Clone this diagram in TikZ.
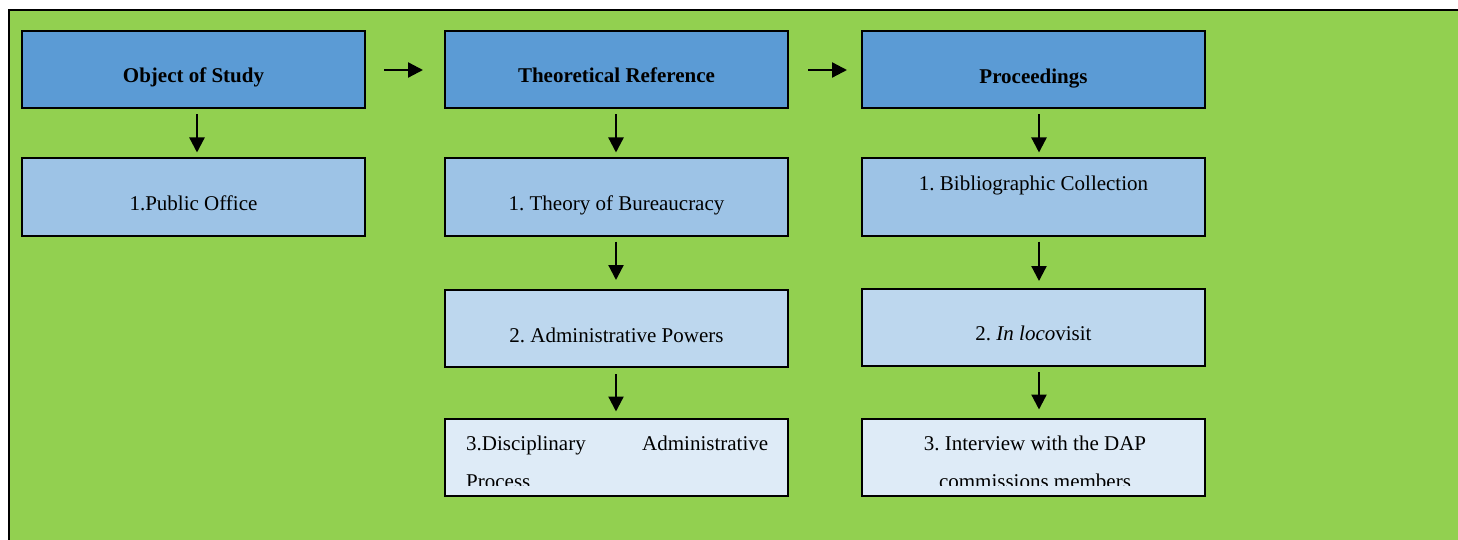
\documentclass[tikz,border=0pt]{standalone}
\usepackage{fontspec}
\setmainfont{Liberation Serif}
\usetikzlibrary{arrows.meta,calc}
\definecolor{panelgreen}{HTML}{92D050}
\definecolor{headblue}{HTML}{5B9BD5}
\definecolor{blueA}{HTML}{9DC3E6}
\definecolor{blueB}{HTML}{BDD7EE}
\definecolor{blueC}{HTML}{DEEBF7}
\frenchspacing
\begin{document}
\begin{tikzpicture}[x=1pt,y=-1pt,
  box/.style={draw=black,line width=2pt,rectangle,inner sep=0pt,
    minimum width=343pt,minimum height=77pt},
  head/.style={box,fill=headblue},
  lvlA/.style={box,fill=blueA},
  lvlB/.style={box,fill=blueB},
  lvlC/.style={box,fill=blueC},
  txt/.style={inner sep=0pt,anchor=base,font=\fontsize{21}{25}\selectfont},
  btxt/.style={txt,font=\fontsize{21}{25}\selectfont\bfseries},
  arr/.style={line width=2.3pt,-{Triangle[length=15pt,width=15pt]}}]

% page and panel
\useasboundingbox (0,0) rectangle (1458,540);
\fill[white] (0,0) rectangle (1458,540);
\fill[panelgreen] (9,10) rectangle (1458,540);
\draw[line width=2pt] (9,540) -- (9,10) -- (1458,10);

% column 1
\node[head] (h1) at (193.5,70) {};
\node[lvlA] (c1a) at (193.5,197) {};
\node[btxt] (t-h1) at (193.5,83) {Object of Study};
\node[txt] (t-c1a) at (193.5,211) {1.Public Office};

% column 2
\node[head] (h2) at (616.5,70) {};
\node[lvlA] (c2a) at (616.5,197) {};
\node[lvlB] (c2b) at (616.5,328.5) {};
\node[lvlC] (c2c) at (616.5,457) {};
\node[btxt] (t-h2) at (616.5,83) {Theoretical Reference};
\node[txt] (t-c2a) at (616.5,211) {1. Theory of Bureaucracy};
\node[txt] (t-c2b) at (616.5,342) {2. Administrative Powers};
\begin{scope}
  \clip (447,421) rectangle (786,485.5);
  \node[txt,anchor=base west] (t-c2c1) at (466,450.5)
    {\hbox to 302pt{3.Disciplinary\hfill Administrative}};
  \node[txt,anchor=base west] (t-c2c2) at (466,488.5) {Process};
\end{scope}

% column 3
\node[head] (h3) at (1033.5,70) {};
\node[lvlA] (c3a) at (1033.5,197) {};
\node[lvlB] (c3b) at (1033.5,327.5) {};
\node[lvlC] (c3c) at (1033.5,457) {};
\node[btxt] (t-h3) at (1033.5,84) {Proceedings};
\node[txt] (t-c3a) at (1033.5,190) {1. Bibliographic Collection};
\node[txt] (t-c3b) at (1033.5,340) {2. \textit{In loco}visit};
\begin{scope}
  \clip (864,421) rectangle (1203,485.5);
  \node[txt] (t-c3c1) at (1035,450.5) {3. Interview with the DAP};
  \node[txt] (t-c3c2) at (1035,488.5) {commissions members};
\end{scope}

% arrows between headers
\draw[arr] ([xshift=18pt]h1.east) -- ([xshift=-21pt]h2.west);
\draw[arr] ([xshift=19pt]h2.east) -- ([xshift=-14pt]h3.west);

% arrows down each column
\draw[arr] ([xshift=3.5pt,yshift=-5pt]h1.south) -- ([xshift=3.5pt,yshift=5pt]c1a.north);
\draw[arr] ([xshift=-0.5pt,yshift=-5pt]h2.south) -- ([xshift=-0.5pt,yshift=5pt]c2a.north);
\draw[arr] ([xshift=-0.5pt,yshift=-5pt]c2a.south) -- ([xshift=-0.5pt,yshift=9pt]c2b.north);
\draw[arr] ([xshift=-0.5pt,yshift=-6pt]c2b.south) -- ([xshift=-0.5pt,yshift=6pt]c2c.north);
\draw[arr] ([xshift=5.5pt,yshift=-5pt]h3.south) -- ([xshift=5.5pt,yshift=5pt]c3a.north);
\draw[arr] ([xshift=5.5pt,yshift=-5pt]c3a.south) -- ([xshift=5.5pt,yshift=7pt]c3b.north);
\draw[arr] ([xshift=5.5pt,yshift=-5pt]c3b.south) -- ([xshift=5.5pt,yshift=8pt]c3c.north);
\end{tikzpicture}
\end{document}
